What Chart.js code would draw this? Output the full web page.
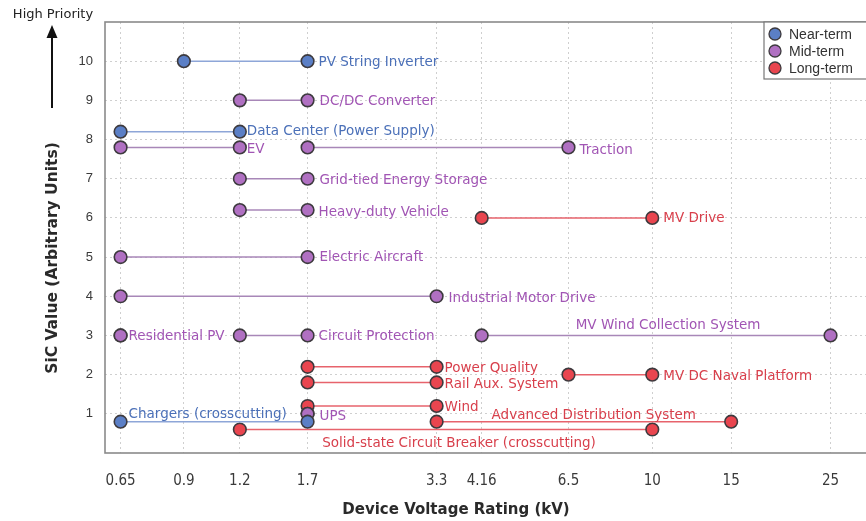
<!DOCTYPE html>
<html><head><meta charset="utf-8">
<script src="https://cdn.jsdelivr.net/npm/chart.js@4"></script>
<style>html,body{margin:0;padding:0;background:#fff}#wrap{width:866px;height:521px;position:relative}</style>
</head><body><div id="wrap"><canvas id="c"></canvas></div>
<script>
// ---------- data ----------
const termNames = ['Near-term', 'Mid-term', 'Long-term'];
const xTickValues = [0.65, 0.9, 1.2, 1.7, 3.3, 4.16, 6.5, 10, 15, 25];
const xTickLabels = ['0.65', '0.9', '1.2', '1.7', '3.3', '4.16', '6.5', '10', '15', '25'];
const yTickValues = [1, 2, 3, 4, 5, 6, 7, 8, 9, 10];
const applications = [
  'PV String Inverter', 'Data Center (Power Supply)', 'Chargers (crosscutting)',
  'DC/DC Converter', 'EV', 'Traction', 'Grid-tied Energy Storage', 'Heavy-duty Vehicle',
  'Electric Aircraft', 'Industrial Motor Drive', 'Residential PV', 'Circuit Protection',
  'MV Wind Collection System', 'UPS',
  'MV Drive', 'Power Quality', 'Rail Aux. System', 'MV DC Naval Platform', 'Wind',
  'Advanced Distribution System', 'Solid-state Circuit Breaker (crosscutting)'
];
const applicationTerm = [0, 0, 0, 1, 1, 1, 1, 1, 1, 1, 1, 1, 1, 1, 2, 2, 2, 2, 2, 2, 2];
const voltageLow  = [0.9, 0.65, 0.65, 1.2, 0.65, 1.7, 1.2, 1.2, 0.65, 0.65, 0.65, 1.2, 4.16, 1.7, 4.16, 1.7, 1.7, 6.5, 1.7, 3.3, 1.2];
const voltageHigh = [1.7, 1.2, 1.7, 1.7, 1.2, 6.5, 1.7, 1.7, 1.7, 3.3, 0.65, 1.7, 25, 1.7, 10, 3.3, 3.3, 10, 3.3, 15, 10];
const sicValue    = [10, 8.2, 0.8, 9, 7.8, 7.8, 7, 6.2, 5, 4, 3, 3, 3, 1.0, 6.0, 2.2, 1.8, 2.0, 1.2, 0.8, 0.6];

// ---------- styles / layout ----------
const termFill = ['#5b7fc6', '#b070c2', '#e9454f'];
const termLine = ['#8ea6d8', '#a887b8', '#e7636c'];
const termText = ['#4b70b8', '#a155b4', '#d83f4b'];
// label placement: [anchor, dx, dy]
const labelLayout = [
  ['end', 11, 1], ['end', 7, 0], ['start', 8, -7],
  ['end', 12, 1], ['end', 7, 2], ['end', 11, 3], ['end', 12, 2], ['end', 11, 2],
  ['end', 12, 0], ['end', 12, 2], ['end', 8, 1], ['end', 11, 1],
  ['mid', 12, -10], ['end', 12, 3],
  ['end', 11, 1], ['end', 8, 2], ['end', 8, 2], ['end', 11, 2], ['end', 8, 2],
  ['start', 55, -6], ['mid', 13, 14]
];

const datasets = applications.map((name, i) => ({
  label: name,
  data: [{x: voltageLow[i], y: sicValue[i]}, {x: voltageHigh[i], y: sicValue[i]}],
  showLine: true,
  borderColor: termLine[applicationTerm[i]],
  borderWidth: 1.5,
  pointRadius: 6.3,
  pointHoverRadius: 6.3,
  pointBackgroundColor: termFill[applicationTerm[i]],
  pointBorderColor: '#3d3a3e',
  pointBorderWidth: 1.6,
  clip: false
}));

const decorPlugin = {
  id: 'decor',
  beforeDatasetsDraw(chart) {
    const {ctx, chartArea: a} = chart;
    ctx.save();
    ctx.strokeStyle = '#8a8a8a';
    ctx.lineWidth = 1.6;
    ctx.strokeRect(a.left, a.top, a.right - a.left + 5, a.bottom - a.top);
    ctx.restore();
  },
  afterDatasetsDraw(chart) {
    const {ctx, chartArea: a} = chart;
    const xs = chart.scales.x, ys = chart.scales.y;
    ctx.save();
    ctx.font = '13.5px "DejaVu Sans"';
    ctx.textBaseline = 'middle';
    applications.forEach((name, i) => {
      const [mode, dx, dy] = labelLayout[i];
      const y = ys.getPixelForValue(sicValue[i]) + dy;
      let x;
      if (mode === 'end') { x = xs.getPixelForValue(voltageHigh[i]) + dx; ctx.textAlign = 'left'; }
      else if (mode === 'start') { x = xs.getPixelForValue(voltageLow[i]) + dx; ctx.textAlign = 'left'; }
      else { x = (xs.getPixelForValue(voltageLow[i]) + xs.getPixelForValue(voltageHigh[i])) / 2 + dx; ctx.textAlign = 'center'; }
      ctx.fillStyle = termText[applicationTerm[i]];
      ctx.fillText(name, x, y);
    });
    // legend
    const lx = 764, ly = 22;
    ctx.fillStyle = '#fff';
    ctx.fillRect(lx, ly, 120, 57);
    ctx.strokeStyle = '#777';
    ctx.lineWidth = 1.2;
    ctx.strokeRect(lx, ly, 120, 57);
    ctx.font = '14px "Liberation Sans", Arial, sans-serif';
    ctx.textAlign = 'left';
    termNames.forEach((t, k) => {
      const cy = ly + 12 + k * 17;
      ctx.beginPath();
      ctx.arc(lx + 11, cy, 6, 0, Math.PI * 2);
      ctx.fillStyle = termFill[k];
      ctx.fill();
      ctx.strokeStyle = '#3d3a3e';
      ctx.lineWidth = 1.3;
      ctx.stroke();
      ctx.fillStyle = '#333';
      ctx.fillText(t, lx + 25, cy + 1);
    });
    // axis titles
    ctx.fillStyle = '#2a2a2a';
    ctx.font = 'bold 15px "DejaVu Sans"';
    ctx.textAlign = 'center';
    ctx.fillText('Device Voltage Rating (kV)', 456, 510);
    ctx.save();
    ctx.translate(53, 258);
    ctx.rotate(-Math.PI / 2);
    ctx.font = 'bold 15.5px "DejaVu Sans"';
    ctx.fillText('SiC Value (Arbitrary Units)', 0, 0);
    ctx.restore();
    // high priority arrow
    ctx.font = '13px "DejaVu Sans"';
    ctx.fillStyle = '#222';
    ctx.fillText('High Priority', 53, 15);
    ctx.strokeStyle = '#111';
    ctx.lineWidth = 2;
    ctx.beginPath();
    ctx.moveTo(52, 108);
    ctx.lineTo(52, 34);
    ctx.stroke();
    ctx.beginPath();
    ctx.moveTo(52, 25);
    ctx.lineTo(46.5, 38);
    ctx.lineTo(57.5, 38);
    ctx.closePath();
    ctx.fillStyle = '#111';
    ctx.fill();
    ctx.restore();
  }
};

new Chart(document.getElementById('c'), {
  type: 'scatter',
  data: { datasets },
  options: {
    responsive: true,
    maintainAspectRatio: false,
    animation: false,
    layout: { autoPadding: false, padding: { top: 22, right: 0, left: 0, bottom: 0 } },
    plugins: { legend: { display: false }, tooltip: { enabled: false } },
    scales: {
      x: {
        type: 'logarithmic',
        min: 0.6, max: 30,
        afterBuildTicks: (s) => { s.ticks = xTickValues.map(v => ({ value: v })); },
        afterFit: (s) => { s.height = 68; },
        ticks: {
          autoSkip: false, maxRotation: 0, padding: 19,
          color: '#3a3a3a',
          font: { family: '"Liberation Sans Narrow", "DejaVu Sans Condensed", sans-serif', size: 15 },
          callback: (v) => { const k = xTickValues.indexOf(v); return k >= 0 ? xTickLabels[k] : ''; }
        },
        grid: { color: '#cfcfcf', lineWidth: 1, drawTicks: false },
        border: { display: false, dash: [2, 3] }
      },
      y: {
        min: 0, max: 11,
        afterBuildTicks: (s) => { s.ticks = yTickValues.map(v => ({ value: v })); },
        afterFit: (s) => { s.width = 105; },
        ticks: {
          padding: 12, color: '#3a3a3a',
          font: { family: '"Liberation Sans", Arial, sans-serif', size: 13 }
        },
        grid: { color: '#cfcfcf', lineWidth: 1, drawTicks: false },
        border: { display: false, dash: [2, 3] }
      }
    }
  },
  plugins: [decorPlugin]
});
</script>
</body></html>
